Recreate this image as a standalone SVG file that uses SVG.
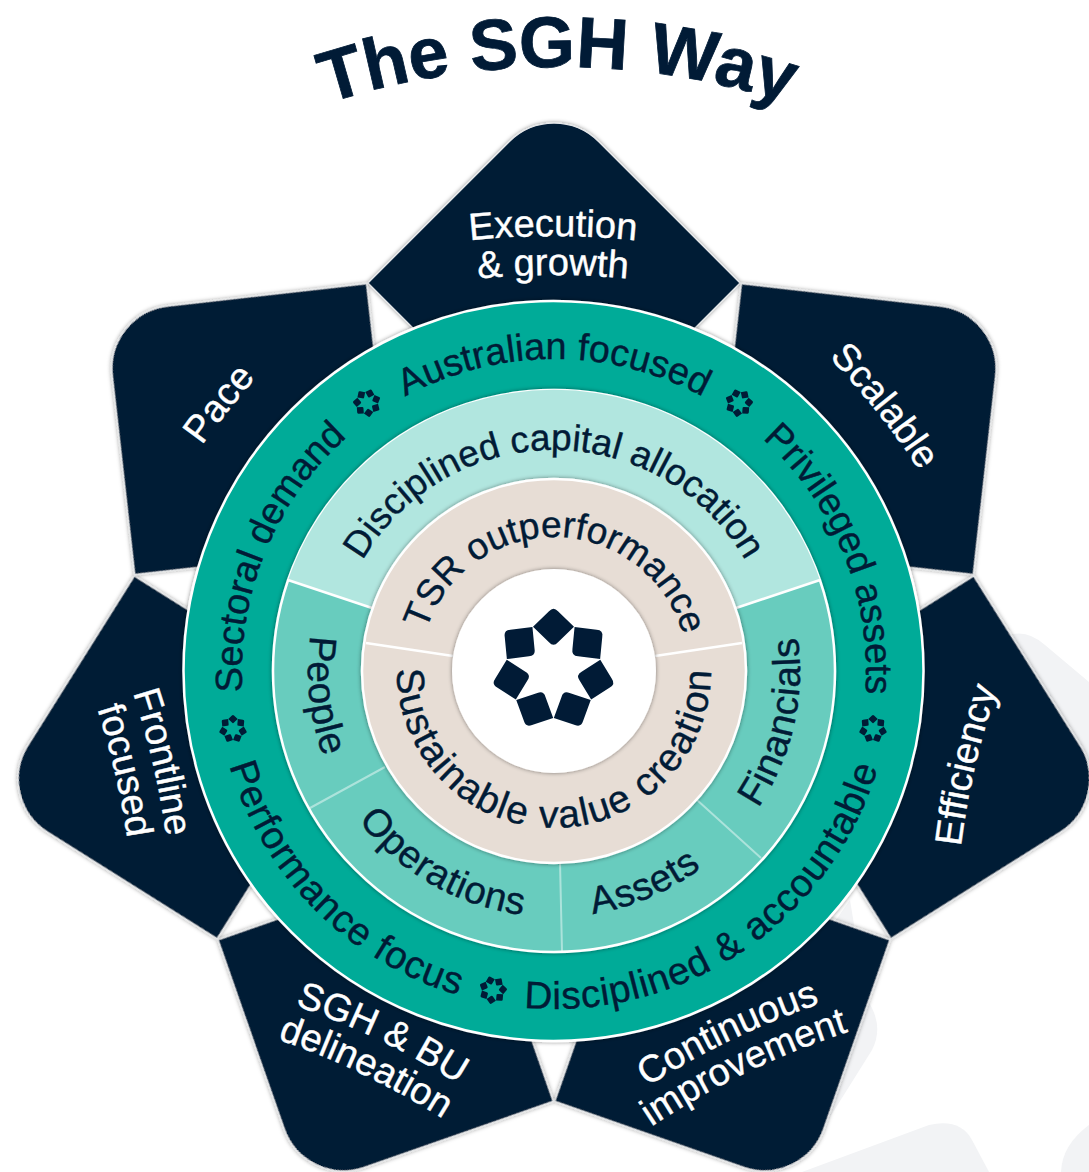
<svg xmlns="http://www.w3.org/2000/svg" xmlns:xlink="http://www.w3.org/1999/xlink" width="1089" height="1172" viewBox="0 0 1089 1172">
<style>
text{font-family:"Liberation Sans",Arial,sans-serif;fill:#011b36;stroke:#011b36;stroke-width:.4}
.title{font-size:72px;font-weight:700;stroke-width:.8}
.band{font-size:37.7px}
.bandb{font-size:38.5px;letter-spacing:.9px}
.mid{font-size:37px}
.midb{font-size:38.5px;letter-spacing:.7px}
.inner{font-size:37px}
.innerb{font-size:39px;letter-spacing:1.5px}
.pt{font-size:38px;fill:#fff;stroke:#fff}
.petal{fill:#011b36;stroke:#e6e8ea;stroke-width:1.2;filter:url(#sh)}
.divider{stroke:#fff;stroke-width:2.5;fill:none}
.faint{stroke:#fff;stroke-width:2;stroke-opacity:.45;fill:none}
.wm{fill:#f2f3f5}
.mk{fill:#011b36}
</style>
<defs>
<filter id="sh" x="-10%" y="-10%" width="120%" height="120%"><feDropShadow dx="0" dy="0" stdDeviation="2" flood-color="#000" flood-opacity=".45"/></filter>
<path id="pTitle" d="M108 217A750 750 0 0 1 1008 217"/>
<path id="oCW" d="M554 983A312 312 0 1 1 554 359A312 312 0 1 1 554 983"/>
<path id="oCCW" d="M554 333A338 338 0 1 0 554 1009A338 338 0 1 0 554 333"/>
<path id="mCW" d="M554 892A221 221 0 1 1 554 450A221 221 0 1 1 554 892"/>
<path id="mCCW" d="M554 425A246 246 0 1 0 554 917A246 246 0 1 0 554 425"/>
<path id="iCW" d="M554 805A134 134 0 1 1 554 537A134 134 0 1 1 554 805"/>
<path id="iCCW" d="M554 514A157 157 0 1 0 554 828A157 157 0 1 0 554 514"/>
<path id="arc" d="M-300 58.4A800 800 0 0 1 300 58.4"/>
<path id="sq" class="mk" d="M-20.5 -43.3L-4.5 -58.8Q0 -63.8 4.5 -58.8L20.5 -43.3L4.5 -27.8Q0 -22.8 -4.5 -27.8Z"/>
<g id="star">
<use href="#sq"/>
<use href="#sq" transform="rotate(51.4286)"/>
<use href="#sq" transform="rotate(102.857)"/>
<use href="#sq" transform="rotate(154.286)"/>
<use href="#sq" transform="rotate(205.714)"/>
<use href="#sq" transform="rotate(257.143)"/>
<use href="#sq" transform="rotate(308.571)"/>
</g>
<path id="petalShape" class="petal" d="M368 283L509.5 141.5A63 63 0 0 1 598.5 141.5L740 283L554 469Z"/>
</defs>
<rect width="1089" height="1172" fill="#fff"/>
<g id="watermark">
<path class="wm" d="M1000 640Q1022 625 1045 645L1089 682V800H1000Z"/>
<path class="wm" d="M850 900L866 998Q885 1025 872 1050L825 1125L780 1000Z"/>
<path class="wm" d="M802 1172L929 1125Q960 1118 972 1140L989 1172Z"/>
<path class="wm" d="M1061 1172Q1062 1145 1089 1125V1172Z"/>
</g>
<g id="connectors"></g>
<text id="title" class="title"><textPath href="#pTitle" startOffset="50%" text-anchor="middle">The SGH Way</textPath></text>
<g id="petal-execution"><use href="#petalShape"/></g>
<g id="petal-scalable"><use href="#petalShape" transform="rotate(51.4286 554 671)"/></g>
<g id="petal-efficiency"><use href="#petalShape" transform="rotate(102.857 554 671)"/></g>
<g id="petal-continuous"><use href="#petalShape" transform="rotate(154.286 554 671)"/></g>
<g id="petal-delineation"><use href="#petalShape" transform="rotate(205.714 554 671)"/></g>
<g id="petal-frontline"><use href="#petalShape" transform="rotate(257.143 554 671)"/></g>
<g id="petal-pace"><use href="#petalShape" transform="rotate(308.571 554 671)"/></g>
<g id="petal-labels">
<g transform="translate(553,236)"><text class="pt"><textPath href="#arc" startOffset="50%" text-anchor="middle">Execution</textPath></text><text class="pt" transform="translate(0,39)"><textPath href="#arc" startOffset="50%" text-anchor="middle">&amp; growth</textPath></text></g>
<g transform="translate(877,412) rotate(51.4)"><text class="pt"><textPath href="#arc" startOffset="50%" text-anchor="middle">Scalable</textPath></text></g>
<g transform="translate(975,767) rotate(-77)"><text class="pt"><textPath href="#arc" startOffset="50%" text-anchor="middle">Efficiency</textPath></text></g>
<g transform="translate(731,1040) rotate(-25.7)"><text class="pt"><textPath href="#arc" startOffset="50%" text-anchor="middle">Continuous</textPath></text><text class="pt" transform="translate(0,36)"><textPath href="#arc" startOffset="50%" text-anchor="middle">improvement</textPath></text></g>
<g transform="translate(379,1040) rotate(25.7)"><text class="pt"><textPath href="#arc" startOffset="50%" text-anchor="middle">SGH &amp; BU</textPath></text><text class="pt" transform="translate(0,38)"><textPath href="#arc" startOffset="50%" text-anchor="middle">delineation</textPath></text></g>
<g transform="translate(153,764) rotate(77)"><text class="pt"><textPath href="#arc" startOffset="50%" text-anchor="middle">Frontline</textPath></text><text class="pt" transform="translate(0,39)"><textPath href="#arc" startOffset="50%" text-anchor="middle">focused</textPath></text></g>
<g transform="translate(228,411) rotate(-51.4)"><text class="pt"><textPath href="#arc" startOffset="50%" text-anchor="middle">Pace</textPath></text></g>
</g>
<g id="ring-outer">
<circle cx="553.5" cy="671" r="370" fill="#00ab98" stroke="#fff" stroke-width="2.5" filter="url(#sh)"/>
<text class="band"><textPath href="#oCW" startOffset="50%" text-anchor="middle">Australian focused</textPath></text>
<text class="band"><textPath href="#oCW" startOffset="68.9%" text-anchor="middle">Privileged assets</textPath></text>
<text class="band"><textPath href="#oCW" startOffset="31.2%" text-anchor="middle">Sectoral demand</textPath></text>
<text class="bandb"><textPath href="#oCCW" startOffset="37.5%" text-anchor="middle">Performance focus</textPath></text>
<text class="bandb"><textPath href="#oCCW" startOffset="59.5%" text-anchor="middle">Disciplined &amp; accountable</textPath></text>
<use href="#star" transform="translate(367,403) rotate(-35) scale(.23)"/>
<use href="#star" transform="translate(739,403) rotate(35) scale(.23)"/>
<use href="#star" transform="translate(873,729) rotate(103) scale(.23)"/>
<use href="#star" transform="translate(493,990) rotate(190) scale(.23)"/>
<use href="#star" transform="translate(233,729) rotate(-103) scale(.23)"/>
</g>
<g id="ring-middle">
<circle cx="554" cy="671" r="281" fill="#67ccbe" stroke="#fff" stroke-width="2.5" filter="url(#sh)"/>
<path id="seg-capital" d="M554 671L288.1 580A281 281 0 0 1 819.9 580Z" fill="#b1e6df"/>
<path class="divider" d="M288 580L372 608M820 580L736 608"/>
<path class="faint" d="M310 808L385 767M560 862L562 951M697 800L761 858"/>
<text class="mid"><textPath href="#mCW" startOffset="50%" text-anchor="middle">Disciplined capital allocation</textPath></text>
<text class="midb"><textPath href="#mCCW" startOffset="26.7%" text-anchor="middle">People</textPath></text>
<text class="midb"><textPath href="#mCCW" startOffset="41.7%" text-anchor="middle">Operations</textPath></text>
<text class="midb"><textPath href="#mCCW" startOffset="56.4%" text-anchor="middle">Assets</textPath></text>
<text class="midb"><textPath href="#mCCW" startOffset="71.4%" text-anchor="middle">Financials</textPath></text>
</g>
<g id="ring-inner">
<circle cx="554" cy="671" r="192" fill="#e7ddd5" stroke="#fff" stroke-width="2.5" filter="url(#sh)"/>
<path class="divider" d="M366 643L453 656M742 643L655 656"/>
<text class="inner"><textPath href="#iCW" startOffset="50.3%" text-anchor="middle">TSR outperformance</textPath></text>
<text class="innerb"><textPath href="#iCCW" startOffset="50%" text-anchor="middle">Sustainable value creation</textPath></text>
</g>
<g id="core">
<circle cx="554" cy="671" r="102" fill="#fff" filter="url(#sh)"/>
<use href="#star" transform="translate(553.5,670)"/>
</g>
</svg>
